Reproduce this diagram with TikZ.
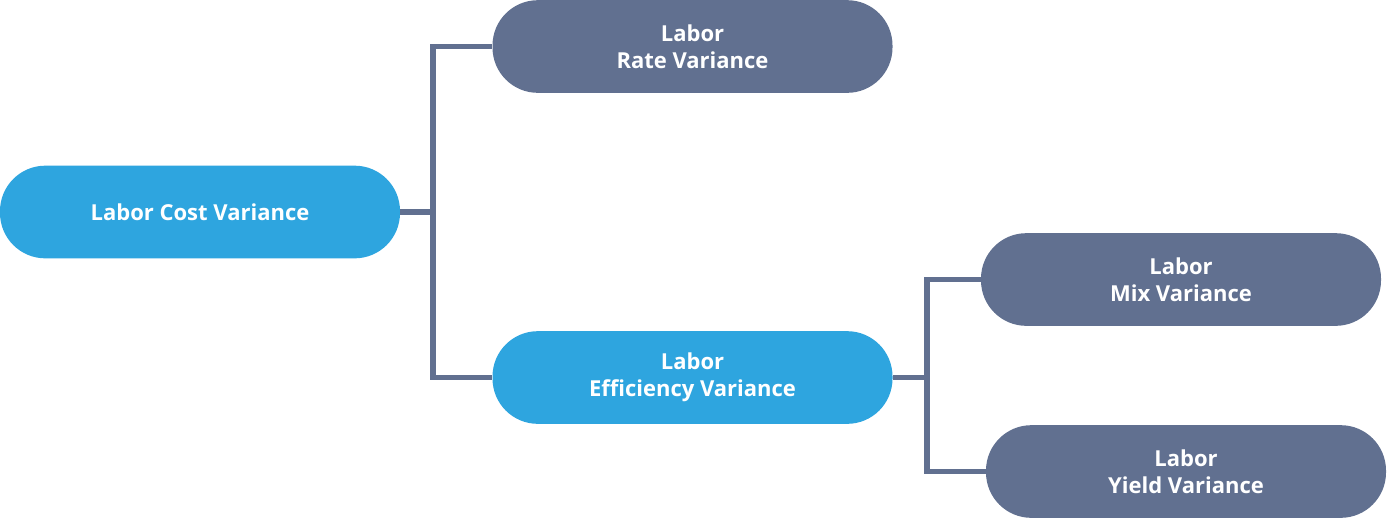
\documentclass[tikz,border=0pt]{standalone}
\usepackage{fontspec}
\setmainfont{Open Sans}
\definecolor{cblue}{HTML}{2EA5DF}
\definecolor{cgray}{HTML}{617090}
\begin{document}
\begin{tikzpicture}[x=0.75pt,y=-0.75pt,
 box/.style={rectangle,rounded corners=34pt,minimum width=300pt,minimum height=69.5pt,inner sep=0pt,text=white,font=\bfseries\fontsize{16.5}{20}\selectfont,align=center},
 conn/.style={draw=cgray,line width=3.8pt}]
\useasboundingbox (0,0) rectangle (1387,519);
\node[box,fill=cblue] (lcv) at (200,212) {Labor Cost Variance};
\node[box,fill=cgray] (rate) at (692.5,46.5) {Labor\\Rate Variance};
\node[box,fill=cblue] (eff) at (692.5,377.5) {Labor\\Efficiency Variance};
\node[box,fill=cgray] (mix) at (1181,279.5) {Labor\\Mix Variance};
\node[box,fill=cgray] (yield) at (1186,471.5) {Labor\\Yield Variance};
\coordinate (j1) at (433,212);
\coordinate (j2) at (927,376);
\draw[conn] (lcv.east) -- (j1);
\draw[conn] (rate.west) -- (j1|-rate.west) -- (j1|-eff.west) -- (eff.west);
\draw[conn] (eff.east) -- (j2|-eff.east);
\draw[conn] (mix.west) -- (j2|-mix.west) -- (j2|-yield.west) -- (yield.west);
\end{tikzpicture}
\end{document}
